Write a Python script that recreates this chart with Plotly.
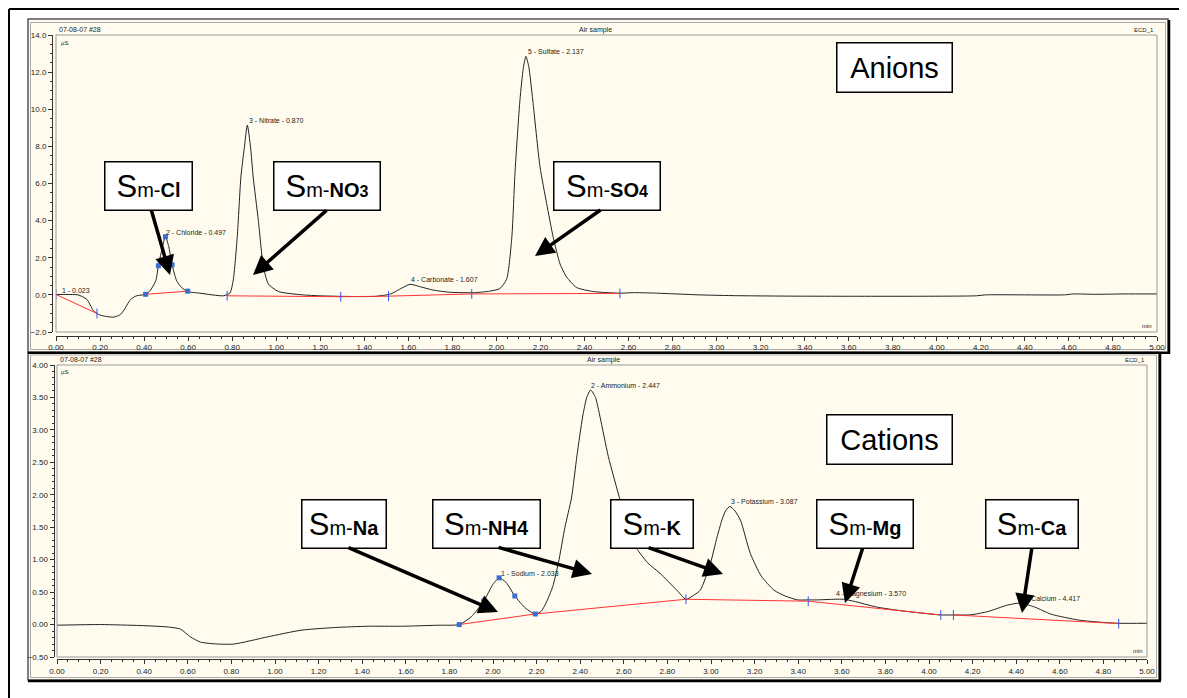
import plotly.graph_objects as go

# the page puts the figure 8px in from the top-left corner
W, H = 1187, 698
OFF = 8
FW, FH = W - OFF, H - OFF
CREAM = "#fffcef"
FONT = "Liberation Sans, Arial, sans-serif"

# ---- anion chromatogram (min, µS) ----
anion_t = [0.00, 0.05, 0.10, 0.14, 0.17, 0.20, 0.26, 0.29, 0.306, 0.339, 0.366, 0.407,
           0.427, 0.453, 0.465, 0.48, 0.497, 0.512, 0.527, 0.548, 0.57, 0.598, 0.654,
           0.76, 0.79, 0.805, 0.823, 0.84, 0.855, 0.869, 0.884, 0.895, 0.919, 0.942,
           0.965, 1.01, 1.12, 1.20, 1.30, 1.45, 1.52, 1.56, 1.608, 1.65, 1.713, 1.789,
           1.90, 1.97, 2.016, 2.047, 2.07, 2.085, 2.107, 2.122, 2.134, 2.147, 2.165,
           2.198, 2.228, 2.258, 2.289, 2.319, 2.364, 2.44, 2.561, 2.62, 2.71, 2.92,
           3.07, 3.38, 4.18, 4.22, 4.58, 4.62, 4.72, 4.85, 5.00]
anion_y = [0.02, 0.02, 0.0, -0.24, -0.85, -1.09, -1.2, -1.08, -0.87, -0.24, -0.05, 0.03,
           0.22, 0.76, 1.57, 2.4, 3.13, 2.6, 1.62, 0.76, 0.4, 0.18, 0.09,
           -0.05, 0.1, 0.8, 3.1, 6.4, 7.9, 9.15, 7.9, 6.4, 4.0, 1.5,
           0.58, 0.18, 0.0, -0.05, -0.08, -0.08, 0.05, 0.3, 0.57, 0.45, 0.26, 0.14,
           0.12, 0.2, 0.34, 0.87, 3.1, 6.7, 10.5, 12.2, 12.85, 12.3, 10.5,
           6.9, 4.93, 3.1, 1.67, 0.96, 0.4, 0.18, 0.09, 0.12, 0.1, 0.0,
           -0.04, -0.07, -0.05, 0.0, 0.0, 0.05, 0.03, 0.05, 0.05]
anion_base_t = [0.0, 0.186, None, 0.407, 0.598, None, 0.777, 1.293, 1.51, 1.888, 2.561]
anion_base_y = [0.02, -1.0, None, 0.03, 0.2, None, -0.05, -0.1, -0.07, 0.05, 0.08]
anion_tick_t = [0.0, 0.186, 0.777, 1.293, 1.51, 1.888, 2.561]
anion_tick_y = [0.02, -1.0, -0.05, -0.1, -0.07, 0.05, 0.08]
anion_mark_t = [0.407, 0.465, 0.497, 0.527, 0.598]
anion_mark_y = [0.03, 1.57, 3.13, 1.62, 0.2]
anion_peak_names = ["1 - 0.023", "2 - Chloride - 0.497", "3 - Nitrate - 0.870",
                    "4 - Carbonate - 1.607", "5 - Sulfate - 2.137"]
anion_peak_t = [0.023, 0.497, 0.870, 1.607, 2.137]
anion_peak_y = [0.02, 3.13, 9.15, 0.57, 12.85]

# ---- cation chromatogram ----
cation_t = [0.00, 0.20, 0.38, 0.505, 0.566, 0.612, 0.658, 0.735, 0.812, 0.966, 1.12,
            1.274, 1.428, 1.58, 1.75, 1.845, 1.90, 1.958, 2.0, 2.028, 2.06, 2.10, 2.15,
            2.194, 2.22, 2.243, 2.274, 2.30, 2.33, 2.36, 2.385, 2.411, 2.43, 2.448,
            2.47, 2.491, 2.529, 2.583, 2.62, 2.658, 2.71, 2.766, 2.843, 2.885, 2.92,
            2.951, 2.997, 3.028, 3.05, 3.068, 3.087, 3.11, 3.135, 3.18, 3.23, 3.289,
            3.34, 3.397, 3.446, 3.485, 3.57, 3.608, 3.654, 3.76, 3.87, 4.054, 4.112,
            4.19, 4.27, 4.36, 4.417, 4.485, 4.56, 4.685, 4.79, 4.87, 5.00]
cation_y = [-0.01, 0.0, -0.015, -0.036, -0.07, -0.19, -0.27, -0.30, -0.30, -0.19, -0.087,
            -0.046, -0.026, -0.026, -0.01, 0.0, 0.12, 0.364, 0.62, 0.72, 0.65, 0.44, 0.25,
            0.163, 0.2, 0.33, 0.585, 0.95, 1.5, 1.95, 2.6, 3.2, 3.5, 3.615,
            3.5, 3.2, 2.59, 1.92, 1.5, 1.18, 0.95, 0.79, 0.53, 0.39, 0.45,
            0.53, 0.94, 1.35, 1.61, 1.76, 1.82, 1.75, 1.61, 1.1, 0.75, 0.53,
            0.44, 0.38, 0.38, 0.38, 0.39, 0.39, 0.36, 0.27, 0.214, 0.148, 0.148,
            0.15, 0.2, 0.3, 0.33, 0.27, 0.16, 0.07, 0.035, 0.02, 0.02]
cation_base_t = [1.845, 2.194, 2.885, 3.446, 4.054, None, 4.112, 4.87]
cation_base_y = [0.0, 0.163, 0.39, 0.36, 0.148, None, 0.148, 0.015]
cation_tick_t = [2.885, 3.446, 4.054, 4.112, 4.87]
cation_tick_y = [0.39, 0.36, 0.148, 0.148, 0.015]
cation_mark_t = [1.845, 1.958, 2.028, 2.10, 2.194]
cation_mark_y = [0.0, 0.364, 0.72, 0.44, 0.163]
cation_peak_names = ["1 - Sodium - 2.033", "2 - Ammonium - 2.447", "3 - Potassium - 3.087",
                     "4 - Magnesium - 3.570", "5 - Calcium - 4.417"]
cation_peak_t = [2.033, 2.447, 3.087, 3.570, 4.417]
cation_peak_y = [0.72, 3.615, 1.82, 0.39, 0.33]


def X(p):
    # screen pixel -> paper fraction
    return (p - OFF) / FW


def Y(p):
    return 1 - (p - OFF) / FH


fig = go.Figure()


def add_panel(xa, ya, t, y, bt, by, tt, ty, mt, my):
    fig.add_trace(go.Scatter(x=t, y=y, mode="lines", xaxis=xa, yaxis=ya,
                             line=dict(color="#222", width=1, shape="spline", smoothing=0.6)))
    fig.add_trace(go.Scatter(x=bt, y=by, mode="lines", xaxis=xa, yaxis=ya,
                             line=dict(color="#ff3333", width=1)))
    fig.add_trace(go.Scatter(x=tt, y=ty, mode="markers", xaxis=xa, yaxis=ya,
                             marker=dict(symbol="line-ns", size=7,
                                         line=dict(color="#3355ee", width=1))))
    fig.add_trace(go.Scatter(x=mt, y=my, mode="markers", xaxis=xa, yaxis=ya,
                             marker=dict(symbol="square", size=5, color="#3a6fd0")))


add_panel("x", "y", anion_t, anion_y, anion_base_t, anion_base_y,
          anion_tick_t, anion_tick_y, anion_mark_t, anion_mark_y)
add_panel("x2", "y2", cation_t, cation_y, cation_base_t, cation_base_y,
          cation_tick_t, cation_tick_y, cation_mark_t, cation_mark_y)

tickfont = dict(family=FONT, size=8, color="#222")
xcommon = dict(range=[0, 5], dtick=0.2, tickformat=".2f", ticks="outside", ticklen=4,
               tickcolor="#333", showline=True, linecolor="#333", showgrid=False,
               zeroline=False, tickfont=tickfont, anchor="free", automargin=False,
               minor=dict(dtick=0.05, ticks="outside", ticklen=2, tickcolor="#333"))
ycommon = dict(ticks="outside", ticklen=4, tickcolor="#333", showline=True,
               linecolor="#333", showgrid=False, zeroline=False, tickfont=tickfont,
               anchor="free", automargin=False)

fig.update_layout(
    width=FW, height=FH, margin=dict(l=0, r=0, t=0, b=0, pad=0, autoexpand=False),
    paper_bgcolor="white", plot_bgcolor=CREAM, showlegend=False,
    xaxis=dict(domain=[X(56), X(1157)], position=Y(335.5), **xcommon),
    yaxis=dict(domain=[Y(332), Y(35)], range=[-2, 14], dtick=2, tickformat=".1f",
               position=X(52),
               minor=dict(dtick=0.5, ticks="outside", ticklen=2, tickcolor="#333"),
               **ycommon),
    xaxis2=dict(domain=[X(57), X(1147)], position=Y(659), **xcommon),
    yaxis2=dict(domain=[Y(657), Y(365)], range=[-0.5, 4.0], dtick=0.5, tickformat=".2f",
                position=X(53.5),
                minor=dict(dtick=0.1, ticks="outside", ticklen=2, tickcolor="#333"),
                **ycommon),
)

shapes = []


def rect(x0, y0, x1, y1, line="#666", lw=1, fill=None, layer="below"):
    shapes.append(dict(type="rect", xref="paper", yref="paper", x0=X(x0), x1=X(x1),
                       y0=Y(y1), y1=Y(y0), line=dict(color=line, width=lw),
                       fillcolor=fill, layer=layer))


def hline(x0, x1, y, color="#000", lw=2):
    shapes.append(dict(type="line", xref="paper", yref="paper", x0=X(x0), x1=X(x1),
                       y0=Y(y), y1=Y(y), line=dict(color=color, width=lw)))


def vline(x, y0, y1, color="#000", lw=2):
    shapes.append(dict(type="line", xref="paper", yref="paper", x0=X(x), x1=X(x),
                       y0=Y(y0), y1=Y(y1), line=dict(color=color, width=lw)))


# page border (top and left visible)
hline(9, 1187, 9)
vline(9, 9, 698)
# panels
rect(28, 19, 1168, 352, line="#555", lw=1.5, fill=CREAM)
rect(30.5, 22.5, 1165.5, 349.5, line="#aaa", lw=1)
rect(28, 352, 1159, 680, line="#555", lw=1.5, fill=CREAM)
rect(30.5, 355, 1156.5, 677.5, line="#aaa", lw=1)
vline(1169, 20, 354, lw=2.5)
hline(28, 1170, 353, lw=2)
vline(1160, 354, 681, lw=2.5)
hline(28, 1161, 681, lw=2.5)
# plot boxes
rect(56, 35, 1157, 332, line="#999", lw=1, layer="above")
rect(57, 365, 1147, 657, line="#999", lw=1, layer="above")
fig.update_layout(shapes=shapes)

ann = []
small = dict(family=FONT, size=7, color="#222")


def txt(x, y, s, xanchor="left", size=7):
    ann.append(dict(xref="paper", yref="paper", x=X(x), y=Y(y), text=s, showarrow=False,
                    xanchor=xanchor, yanchor="middle",
                    font=dict(family=FONT, size=size, color="#222")))


for top, mid, right, unit, minx, miny in [(30, 595, 1156, 42.5, 1154, 326),
                                          (359.5, 603, 1147, 372, 1145, 651)]:
    txt(56.5 if top == 30 else 57.5, top, "07-08-07 #28")
    txt(mid, top, "Air sample", xanchor="center")
    txt(right, top, "ECD_1", xanchor="right", size=6)
    txt(58.5, unit, "µS", size=6)
    txt(minx, miny, "min", xanchor="right", size=6)

for names, ts, ys, xr, yr in [(anion_peak_names, anion_peak_t, anion_peak_y, "x", "y"),
                              (cation_peak_names, cation_peak_t, cation_peak_y, "x2", "y2")]:
    for n, t, v in zip(names, ts, ys):
        ann.append(dict(xref=xr, yref=yr, x=t, y=v, text=n, showarrow=False,
                        xanchor="left", yanchor="bottom", xshift=-1, yshift=-1,
                        font=small))


def box(cx, cy, w, h, text):
    ann.append(dict(xref="paper", yref="paper", x=X(cx), y=Y(cy), text=text,
                    showarrow=False, xanchor="center", yanchor="middle", width=w - 4,
                    height=h - 4, borderpad=1, bordercolor="#000", borderwidth=1.5,
                    bgcolor="white", align="center", valign="middle",
                    font=dict(family=FONT, size=20, color="#000")))


def sm(label):
    return "<span style='font-size:31px'>S</span>m-<b>" + label + "</b>"


box(894, 67, 116, 50, "<span style='font-size:29px'>Anions</span>")
box(889, 439, 126, 50, "<span style='font-size:29px'>Cations</span>")
box(148, 186.5, 88, 49, sm("Cl"))
box(326.5, 186.5, 107, 49, sm("NO<span style='font-size:16px'>3</span>"))
box(606.5, 186.5, 107, 49, sm("SO<span style='font-size:16px'>4</span>"))
box(343.5, 523.5, 85, 49, sm("Na"))
box(486, 523.5, 108, 49, sm("NH4"))
box(651.5, 523.5, 83, 49, sm("K"))
box(864.5, 523.5, 97, 49, sm("Mg"))
box(1031.5, 523.5, 93, 49, sm("Ca"))

# callout arrows: (tail) -> (head) in pixels
for (tx, ty), (hx, hy) in [((151, 209), (170, 275)), ((328, 209), (253, 275)),
                           ((602, 209), (535, 256)), ((347, 547), (498, 612)),
                           ((497, 547), (592, 574)), ((647, 547), (723, 574)),
                           ((863, 547), (845, 603)), ((1032, 547), (1022, 613))]:
    ann.append(dict(xref="paper", yref="paper", x=X(hx), y=Y(hy), ax=tx - hx, ay=ty - hy,
                    axref="pixel", ayref="pixel", text="", showarrow=True, arrowhead=2,
                    arrowsize=1.1, arrowwidth=3.5, arrowcolor="#000", standoff=0,
                    startstandoff=0))

fig.update_layout(annotations=ann)
fig.write_html("out.html")
